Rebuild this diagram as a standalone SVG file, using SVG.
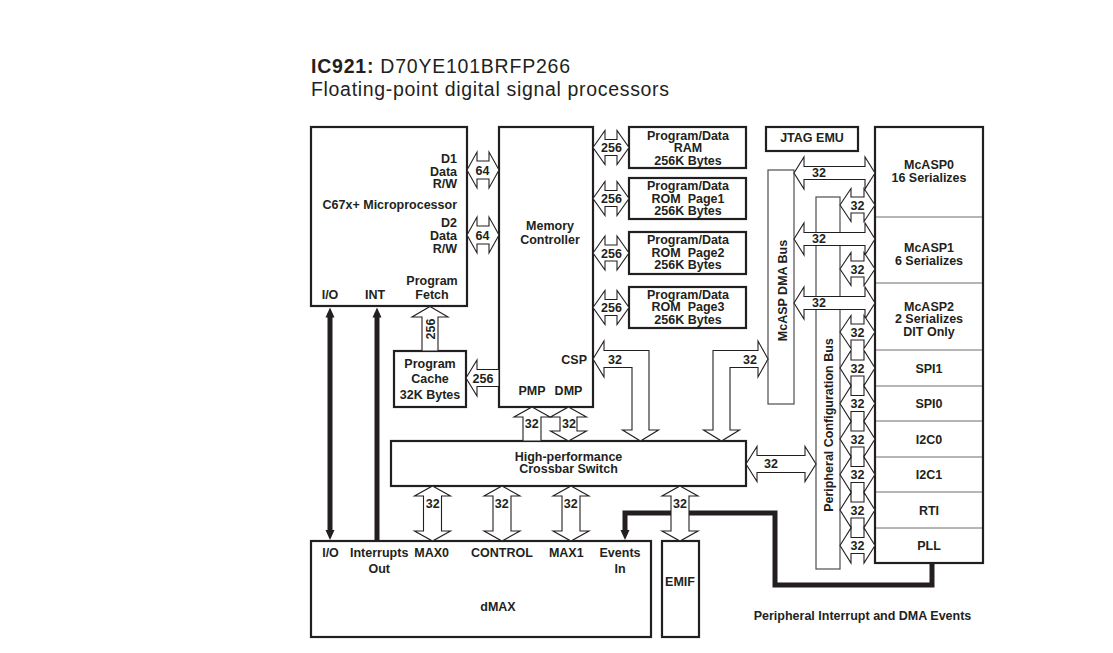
<svg xmlns="http://www.w3.org/2000/svg" width="1113" height="653" viewBox="0 0 1113 653">
<style>
.bg{fill:#fff}
.box{fill:#fff;stroke:#231f20;stroke-width:2.2}
.thin{fill:#fff;stroke:#4d4d4d;stroke-width:1.2}
.div{stroke:#6d6d6d;stroke-width:1}
.arr{fill:#fff;stroke:#231f20;stroke-width:1.1;stroke-linejoin:miter}
.thick{fill:none;stroke:#231f20;stroke-width:5;stroke-linejoin:miter}
.t{font-family:"Liberation Sans",Arial,Helvetica,sans-serif;font-weight:bold;font-size:12.5px;fill:#231f20;text-anchor:middle}
.e{text-anchor:end}
.ttl{font-family:"Liberation Sans",Arial,Helvetica,sans-serif;font-size:19.5px;fill:#231f20}
</style>
<defs>
<marker id="head" viewBox="0 0 10 10" markerWidth="10" markerHeight="10" refX="4" refY="5" orient="auto-start-reverse" markerUnits="userSpaceOnUse">
<path d="M0,0.5 L10,5 L0,9.5 z" fill="#231f20"/>
</marker>
</defs>
<rect class="bg" x="0" y="0" width="1113" height="653"/>

<g id="title">
<text class="ttl" x="311" y="73" textLength="259" lengthAdjust="spacing"><tspan font-weight="bold">IC921:</tspan> D70YE101BRFP266</text>
<text class="ttl" x="311" y="96" textLength="358" lengthAdjust="spacing">Floating-point digital signal processors</text>
</g>

<g id="cpu">
<rect class="box" x="311" y="127" width="156" height="179"/>
<text class="t e" x="457" y="162.5">D1</text>
<text class="t e" x="457" y="175.5">Data</text>
<text class="t e" x="457" y="188">R/W</text>
<text class="t e" x="457" y="208.5">C67x+ Microprocessor</text>
<text class="t e" x="457" y="226.5">D2</text>
<text class="t e" x="457" y="240">Data</text>
<text class="t e" x="457" y="252.5">R/W</text>
<text class="t" x="432" y="285">Program</text>
<text class="t" x="432" y="298.5">Fetch</text>
<text class="t" x="330" y="298.5">I/O</text>
<text class="t" x="375" y="298.5">INT</text>
</g>

<g id="memctrl">
<rect class="box" x="499" y="127" width="94" height="280"/>
<text class="t" x="550" y="229.5">Memory</text>
<text class="t" x="550" y="243.5">Controller</text>
<text class="t e" x="587" y="364">CSP</text>
<text class="t" x="532" y="395">PMP</text>
<text class="t" x="568.5" y="395">DMP</text>
</g>

<g id="ram">
<rect class="box" x="629" y="127" width="117" height="41"/>
<text class="t" x="688" y="139.5">Program/Data</text>
<text class="t" x="688" y="152.3">RAM</text>
<text class="t" x="688" y="165">256K Bytes</text>
</g>
<g id="rom1">
<rect class="box" x="629" y="178" width="117" height="41"/>
<text class="t" x="688" y="190">Program/Data</text>
<text class="t" x="688" y="202.5" xml:space="preserve">ROM  Page1</text>
<text class="t" x="688" y="215">256K Bytes</text>
</g>
<g id="rom2">
<rect class="box" x="629" y="232" width="117" height="42"/>
<text class="t" x="688" y="244.3">Program/Data</text>
<text class="t" x="688" y="256.8" xml:space="preserve">ROM  Page2</text>
<text class="t" x="688" y="269.3">256K Bytes</text>
</g>
<g id="rom3">
<rect class="box" x="629" y="287" width="117" height="41"/>
<text class="t" x="688" y="298.5">Program/Data</text>
<text class="t" x="688" y="311" xml:space="preserve">ROM  Page3</text>
<text class="t" x="688" y="323.5">256K Bytes</text>
</g>

<g id="jtag">
<rect class="box" x="766" y="127" width="92" height="24"/>
<text class="t" x="812" y="141.7">JTAG EMU</text>
</g>

<g id="cache">
<rect class="box" x="394" y="351" width="72" height="56"/>
<text class="t" x="430" y="367.5">Program</text>
<text class="t" x="430" y="383.3">Cache</text>
<text class="t" x="430" y="399.3">32K Bytes</text>
</g>

<g id="crossbar">
<rect class="box" x="391" y="441" width="355" height="45"/>
<text class="t" x="568.5" y="460.7">High-performance</text>
<text class="t" x="568.5" y="472.7">Crossbar Switch</text>
</g>

<g id="dmax">
<rect class="box" x="311" y="541" width="340" height="96"/>
<text class="t" x="330.5" y="557.3">I/O</text>
<text class="t" x="379.2" y="557.3">Interrupts</text>
<text class="t" x="379.2" y="572.7">Out</text>
<text class="t" x="431.7" y="557.3">MAX0</text>
<text class="t" x="502" y="557.3">CONTROL</text>
<text class="t" x="566.3" y="557.3">MAX1</text>
<text class="t" x="620" y="557.3">Events</text>
<text class="t" x="620" y="572.7">In</text>
<text class="t" x="498" y="610.7">dMAX</text>
</g>

<g id="emif">
<rect class="box" x="662" y="541" width="37" height="96"/>
<text class="t" x="680" y="586">EMIF</text>
</g>

<g id="dmabus">
<rect class="thin" x="768" y="170" width="26" height="234"/>
<text class="t" transform="translate(786.5 290.5) rotate(-90)">McASP DMA Bus</text>
</g>

<g id="cfgbus">
<rect class="thin" x="816" y="197" width="24" height="372"/>
<text class="t" transform="translate(832.5 425) rotate(-90)">Peripheral Configuration Bus</text>
</g>

<g id="peripherals">
<rect class="box" x="875" y="127" width="108" height="436"/>
<line class="div" x1="876" y1="217" x2="982" y2="217"/>
<line class="div" x1="876" y1="283" x2="982" y2="283"/>
<line class="div" x1="876" y1="350" x2="982" y2="350"/>
<line class="div" x1="876" y1="386" x2="982" y2="386"/>
<line class="div" x1="876" y1="421" x2="982" y2="421"/>
<line class="div" x1="876" y1="457" x2="982" y2="457"/>
<line class="div" x1="876" y1="492" x2="982" y2="492"/>
<line class="div" x1="876" y1="528" x2="982" y2="528"/>
<text class="t" x="929" y="169.3">McASP0</text>
<text class="t" x="929" y="181.7">16 Serializes</text>
<text class="t" x="929" y="252.3">McASP1</text>
<text class="t" x="929" y="265">6 Serializes</text>
<text class="t" x="929" y="310.7">McASP2</text>
<text class="t" x="929" y="323.3">2 Serializes</text>
<text class="t" x="929" y="335.5">DIT Only</text>
<text class="t" x="929" y="372.5">SPI1</text>
<text class="t" x="929" y="408">SPI0</text>
<text class="t" x="929" y="443.5">I2C0</text>
<text class="t" x="929" y="479">I2C1</text>
<text class="t" x="929" y="514.5">RTI</text>
<text class="t" x="929" y="550">PLL</text>
</g>

<g id="connectors">
<polyline class="thick" points="932,563 932,585 775,585 775,513 625,513 625,534" marker-end="url(#head)"/>
<line class="thick" x1="330" y1="313.5" x2="330" y2="534" marker-start="url(#head)" marker-end="url(#head)"/>
<line class="thick" x1="377" y1="541" x2="377" y2="313.5" marker-end="url(#head)"/>

<polygon class="arr" points="467,170 477,152 477,161 489,161 489,152 499,170 489,188 489,179 477,179 477,188"/>
<polygon class="arr" points="467,235 477,217 477,226 489,226 489,217 499,235 489,253 489,244 477,244 477,253"/>
<polygon class="arr" points="593,147.5 605,130.5 605,139.5 617,139.5 617,130.5 629,147.5 617,164.5 617,155.5 605,155.5 605,164.5"/>
<polygon class="arr" points="593,198.5 605,181.5 605,190.5 617,190.5 617,181.5 629,198.5 617,215.5 617,206.5 605,206.5 605,215.5"/>
<polygon class="arr" points="593,253 605,236 605,245 617,245 617,236 629,253 617,270 617,261 605,261 605,270"/>
<polygon class="arr" points="593,307.5 605,290.5 605,299.5 617,299.5 617,290.5 629,307.5 617,324.5 617,315.5 605,315.5 605,324.5"/>
<polygon class="arr" points="430,306.5 448,317 438,317 438,351 422,351 422,317 412,317"/>
<polygon class="arr" points="466,378 477,360 477,369.5 499,369.5 499,386.5 477,386.5 477,396"/>
<polygon class="arr" points="532,407 550,417 541,417 541,441 523,441 523,417 514,417"/>
<polygon class="arr" points="568.5,407 586.5,417 577,417 577,431 586.5,431 568.5,441 550.5,431 560,431 560,417 550.5,417"/>
<polygon class="arr" points="593,359 604,341 604,350.5 649,350.5 649,430 658.5,430 640.5,441 622.5,430 632,430 632,367.5 604,367.5 604,377"/>
<polygon class="arr" points="768,359 758,377 758,367.5 730,367.5 730,430 739.5,430 721.5,441 703.5,430 713,430 713,350.5 758,350.5 758,341"/>
<polygon class="arr" points="746,464 757,446.5 757,455.5 805,455.5 805,446.5 816,464 805,481.5 805,472.5 757,472.5 757,481.5"/>
<polygon class="arr" points="432.5,486 450.5,496 441.5,496 441.5,531 450.5,531 432.5,541 414.5,531 423.5,531 423.5,496 414.5,496"/>
<polygon class="arr" points="502,486 520,496 511,496 511,531 520,531 502,541 484,531 493,531 493,496 484,496"/>
<polygon class="arr" points="571,486 589,496 580,496 580,531 589,531 571,541 553,531 562,531 562,496 553,496"/>
<polygon class="arr" points="680,486 698,496 689,496 689,531 698,531 680,541 662,531 671,531 671,496 662,496"/>
<polygon class="arr" points="794,173 804,157 804,166.5 865,166.5 865,157 875,173 865,189 865,179.5 804,179.5 804,189"/>
<polygon class="arr" points="794,239 804,223 804,232.5 865,232.5 865,223 875,239 865,255 865,245.5 804,245.5 804,255"/>
<polygon class="arr" points="794,303 804,287 804,296.5 865,296.5 865,287 875,303 865,319 865,309.5 804,309.5 804,319"/>
<polygon class="arr" points="840,205 851,188.5 851,197 864,197 864,188.5 875,205 864,221.5 864,213 851,213 851,221.5"/>
<polygon class="arr" points="840,269 851,252.5 851,261 864,261 864,252.5 875,269 864,285.5 864,277 851,277 851,285.5"/>
<polygon class="arr" points="840,332 851,315.5 851,324 864,324 864,315.5 875,332 864,348.5 864,340 851,340 851,348.5"/>
<polygon class="arr" points="840,368 851,350.5 851,360 864,360 864,350.5 875,368 864,385.5 864,376 851,376 851,385.5"/>
<polygon class="arr" points="840,403.5 851,386 851,395.5 864,395.5 864,386 875,403.5 864,421 864,411.5 851,411.5 851,421"/>
<polygon class="arr" points="840,439 851,421.5 851,431 864,431 864,421.5 875,439 864,456.5 864,447 851,447 851,456.5"/>
<polygon class="arr" points="840,474.5 851,457 851,466.5 864,466.5 864,457 875,474.5 864,492 864,482.5 851,482.5 851,492"/>
<polygon class="arr" points="840,510 851,492.5 851,502 864,502 864,492.5 875,510 864,527.5 864,518 851,518 851,527.5"/>
<polygon class="arr" points="840,545.5 851,528 851,537.5 864,537.5 864,528 875,545.5 864,563 864,553.5 851,553.5 851,563"/>

<text class="t" x="482.5" y="175">64</text>
<text class="t" x="482.5" y="240">64</text>
<text class="t" x="611.5" y="152">256</text>
<text class="t" x="611.5" y="203">256</text>
<text class="t" x="611.5" y="257.5">256</text>
<text class="t" x="611.5" y="312">256</text>
<text class="t" transform="translate(434.5 329) rotate(-90)">256</text>
<text class="t" x="483" y="382.7">256</text>
<text class="t" x="531.7" y="428.3">32</text>
<text class="t" x="569" y="428.3">32</text>
<text class="t" x="615" y="364">32</text>
<text class="t" x="750" y="364">32</text>
<text class="t" x="771" y="468">32</text>
<text class="t" x="432.7" y="507.7">32</text>
<text class="t" x="501.7" y="507.7">32</text>
<text class="t" x="570.7" y="507.7">32</text>
<text class="t" x="680" y="507.7">32</text>
<text class="t" x="819" y="177">32</text>
<text class="t" x="819" y="243">32</text>
<text class="t" x="819" y="307">32</text>
<text class="t" x="857.5" y="209.5">32</text>
<text class="t" x="857.5" y="273.5">32</text>
<text class="t" x="857.5" y="336.5">32</text>
<text class="t" x="857.5" y="372.5">32</text>
<text class="t" x="857.5" y="408">32</text>
<text class="t" x="857.5" y="443.5">32</text>
<text class="t" x="857.5" y="479">32</text>
<text class="t" x="857.5" y="514.5">32</text>
<text class="t" x="857.5" y="550">32</text>
<text class="t" x="862.5" y="619.5">Peripheral Interrupt and DMA Events</text>
</g>
</svg>
